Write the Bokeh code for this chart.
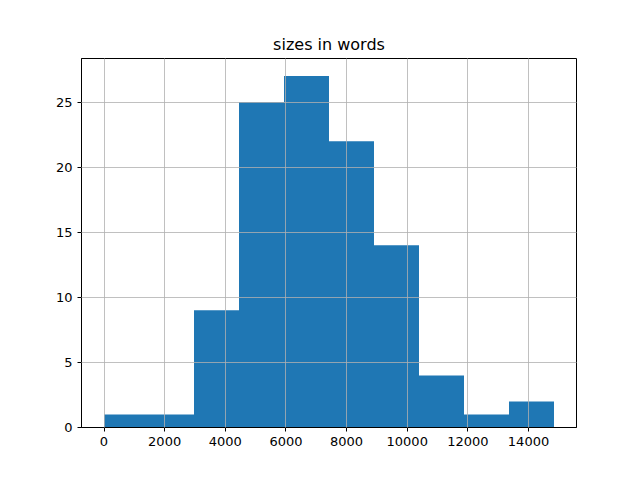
from bokeh.plotting import figure
from bokeh.models import Range1d, FixedTicker
from bokeh.embed import file_html
from bokeh.resources import INLINE

# Histogram data (10 bins)
bin_edges = [0, 1484, 2968, 4452, 5936, 7420, 8904, 10388, 11872, 13356, 14840]
counts = [1, 1, 9, 25, 27, 22, 14, 4, 1, 2]
x_ticks = [0, 2000, 4000, 6000, 8000, 10000, 12000, 14000]
y_ticks = [0, 5, 10, 15, 20, 25]
title = "sizes in words"

span = bin_edges[-1] - bin_edges[0]
p = figure(width=640, height=480, output_backend="svg", toolbar_location=None,
           title=title,
           x_range=Range1d(bin_edges[0] - 0.05 * span, bin_edges[-1] + 0.05 * span),
           y_range=Range1d(0, max(counts) * 1.05),
           min_border_left=81, min_border_right=64, min_border_top=58, min_border_bottom=53)

p.quad(left=bin_edges[:-1], right=bin_edges[1:], top=counts, bottom=0,
       fill_color="#1f77b4", line_color=None)

p.title.align = "center"
p.title.text_font = "DejaVu Sans"
p.title.text_font_size = "16px"
p.title.text_font_style = "normal"
p.title.text_color = "black"
p.title.standoff = 10

p.outline_line_color = "black"
p.outline_line_width = 1
p.background_fill_color = "white"
p.border_fill_color = "white"

p.xaxis.ticker = FixedTicker(ticks=x_ticks)
p.yaxis.ticker = FixedTicker(ticks=y_ticks)
for ax in (p.xaxis, p.yaxis):
    ax.axis_line_color = "black"
    ax.major_tick_line_color = "black"
    ax.major_tick_out = 4
    ax.major_tick_in = 0
    ax.minor_tick_line_color = None
    ax.major_label_text_font = "DejaVu Sans"
    ax.major_label_text_font_size = "13px"
    ax.major_label_text_color = "black"
    ax.major_label_standoff = 5
p.xaxis.formatter.use_scientific = False

for g in (p.xgrid, p.ygrid):
    g.grid_line_color = "#b0b0b0"
    g.grid_line_width = 0.8
    g.level = "overlay"
p.xgrid.ticker = FixedTicker(ticks=x_ticks)
p.ygrid.ticker = FixedTicker(ticks=y_ticks)

open("out.html", "w").write(file_html(p, INLINE))
